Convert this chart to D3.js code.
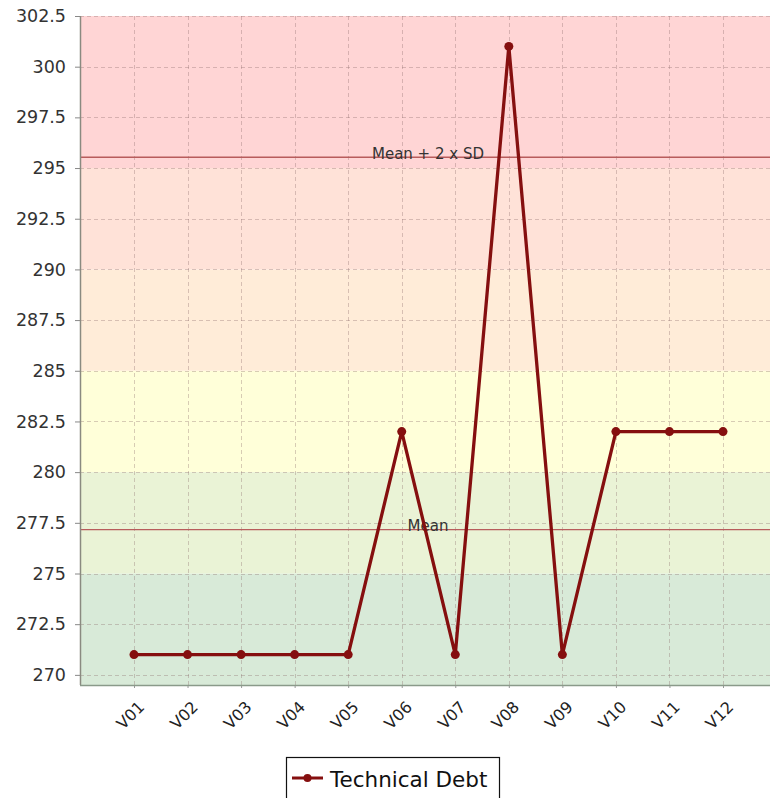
<!DOCTYPE html>
<html><head><meta charset="utf-8">
<script src="https://cdn.jsdelivr.net/npm/d3@7"></script>
<style>body{margin:0;background:#fff;} svg{display:block;font-family:"DejaVu Sans",sans-serif;}</style>
</head><body>
<svg id="chart" width="770" height="798"></svg>
<script>
const categories = ["V01","V02","V03","V04","V05","V06","V07","V08","V09","V10","V11","V12"];
const values = [271,271,271,271,271,282,271,301,271,282,282,282];
const yTicks = [270,272.5,275,277.5,280,282.5,285,287.5,290,292.5,295,297.5,300,302.5];
const bandLows  = [269.5,275,280,285,290,295];
const bandHighs = [275,280,285,290,295,302.5];
const bandColors = ["#d8ead8","#eaf3d6","#ffffd9","#ffecd8","#ffe2d8","#ffd5d5"];
const seriesName = "Technical Debt";
const markerLabels = ["Mean","Mean + 2 x SD"];

const svg = d3.select("#chart");
const L = 80, R = 770, T = 16, B = 685;
const y = d3.scaleLinear().domain([269.5,302.5]).range([B,T]);
const x = d3.scalePoint().domain(categories).range([134,723]);

// bands
svg.append("g").selectAll("rect").data(bandLows).join("rect")
  .attr("x",L).attr("width",R-L)
  .attr("y",(d,i)=>y(bandHighs[i])).attr("height",(d,i)=>y(d)-y(bandHighs[i]))
  .attr("fill",(d,i)=>bandColors[i]);

// grid
const grid = svg.append("g").attr("stroke","rgba(140,110,110,0.35)").attr("stroke-dasharray","4,3").attr("stroke-width",1);
grid.selectAll("line.h").data(yTicks).join("line").attr("class","h")
  .attr("x1",L).attr("x2",R).attr("y1",d=>Math.round(y(d))+0.5).attr("y2",d=>Math.round(y(d))+0.5);
grid.selectAll("line.v").data(categories).join("line").attr("class","v")
  .attr("y1",T).attr("y2",B).attr("x1",d=>Math.round(x(d))+0.5).attr("x2",d=>Math.round(x(d))+0.5);

// mean lines
const mean = d3.mean(values);
const sd = d3.deviation(values);
const markerVals = [mean, mean + 2*sd];
const mk = svg.append("g");
mk.selectAll("line").data(markerVals).join("line")
  .attr("x1",L).attr("x2",R).attr("y1",d=>y(d)).attr("y2",d=>y(d))
  .attr("stroke","#b85c5c").attr("stroke-width",1.3);
mk.selectAll("text").data(markerVals).join("text")
  .attr("x",428).attr("y",d=>y(d)+1.5).attr("text-anchor","middle")
  .attr("font-size",15).attr("fill","#333").text((d,i)=>markerLabels[i]);

// axes
const yAxis = svg.append("g").attr("transform",`translate(${L},0)`)
  .call(d3.axisLeft(y).tickValues(yTicks).tickSize(5).tickPadding(9)
    .tickFormat(d=>Number.isInteger(d)?String(d):d.toFixed(1)));
yAxis.select(".domain").remove();
yAxis.selectAll(".tick line").attr("stroke","#888");
yAxis.selectAll(".tick text").attr("font-size",17.5).attr("fill","#333").attr("font-family","DejaVu Sans");
svg.append("line").attr("x1",L+0.5).attr("x2",L+0.5).attr("y1",T).attr("y2",B).attr("stroke","#8a8a80").attr("stroke-width",1.5);

const xAxis = svg.append("g").attr("transform",`translate(0,${B})`)
  .call(d3.axisBottom(x).tickSize(3).tickPadding(2));
xAxis.select(".domain").remove();
xAxis.selectAll(".tick line").attr("stroke","#999");
xAxis.selectAll(".tick text").attr("font-size",16).attr("fill","#222").attr("font-family","DejaVu Sans")
  .attr("text-anchor","end").attr("dy",null).attr("y",null)
  .attr("transform","translate(11,23) rotate(-45)");
svg.append("line").attr("x1",L).attr("x2",R).attr("y1",B+0.5).attr("y2",B+0.5).attr("stroke","#8a9a8a").attr("stroke-width",1.5);

// series
const line = d3.line().x((d,i)=>x(categories[i])).y(d=>y(d));
svg.append("path").datum(values).attr("d",line).attr("fill","none")
  .attr("stroke","#850f0f").attr("stroke-width",3.3).attr("stroke-linejoin","miter");
svg.append("g").selectAll("circle").data(values).join("circle")
  .attr("cx",(d,i)=>x(categories[i])).attr("cy",d=>y(d)).attr("r",4.5).attr("fill","#850f0f");

// legend
const lg = svg.append("g");
lg.append("rect").attr("x",286.5).attr("y",757.5).attr("width",213).attr("height",60)
  .attr("fill","#fff").attr("stroke","#111").attr("stroke-width",1.2);
lg.append("line").attr("x1",292).attr("x2",323).attr("y1",778).attr("y2",778).attr("stroke","#850f0f").attr("stroke-width",3);
lg.append("circle").attr("cx",307.5).attr("cy",778).attr("r",4).attr("fill","#850f0f");
lg.append("text").attr("x",330).attr("y",787).attr("font-size",21.5).attr("fill","#111").text(seriesName);
</script>
</body></html>
